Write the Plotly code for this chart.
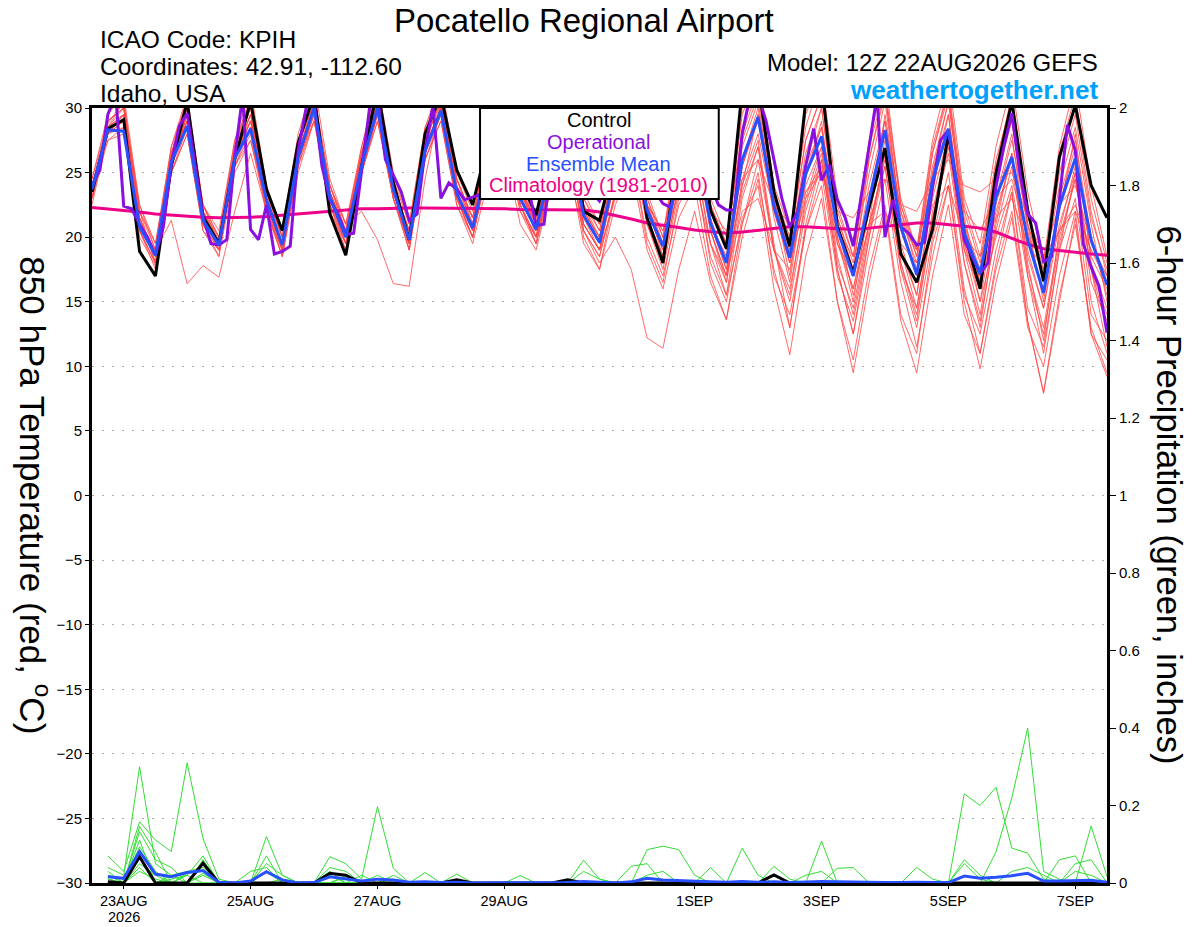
import pandas as pd
import plotly.graph_objects as go

# GEFS 12Z 22AUG2026 run, 6-hourly out to 384h; GFS operational is 3-hourly
times = pd.date_range("2026-08-22 12:00", periods=65, freq="6h")
times_op = pd.date_range("2026-08-22 12:00", periods=129, freq="3h")
precip_times = times[1:]

tick_dates = ["2026-08-23", "2026-08-25", "2026-08-27", "2026-08-29",
              "2026-09-01", "2026-09-03", "2026-09-05", "2026-09-07"]
tick_labels = ["23AUG", "25AUG", "27AUG", "29AUG", "1SEP", "3SEP", "5SEP", "7SEP"]
year_label = "2026"

# 850 hPa temperature (C)
control_temp = [23.5, 28.4, 29.1, 18.9, 17.0, 25.5, 30.5, 21.6, 19.5, 26.0, 30.5, 23.7, 20.5, 27.3, 31.0, 21.8,
                18.6, 25.5, 31.5, 24.2, 19.8, 28.0, 31.0, 25.2, 22.5, 27.5, 30.5, 24.5, 21.7, 27.0, 31.0, 22.0,
                21.3, 26.0, 30.0, 21.5, 18.0, 27.0, 31.0, 22.1, 19.1, 31.5, 32.0, 23.5, 19.3, 30.5, 32.0, 20.8,
                17.2, 22.3, 26.9, 18.7, 16.5, 20.6, 28.0, 20.3, 16.0, 24.9, 30.5, 22.1, 16.6, 26.2, 30.2, 24.0,
                21.5]
mean_temp = [23.7, 28.3, 28.2, 20.8, 18.6, 25.8, 28.6, 21.3, 19.4, 26.1, 28.4, 22.9, 19.4, 26.2, 30.0, 23.1,
             20.0, 25.5, 30.0, 23.7, 19.8, 26.7, 29.8, 23.4, 20.7, 26.0, 28.5, 23.0, 20.6, 25.5, 28.0, 21.7,
             19.6, 25.0, 28.0, 22.1, 19.3, 25.0, 27.5, 21.1, 18.0, 26.0, 29.3, 22.4, 18.4, 24.9, 27.8, 20.6,
             17.0, 22.9, 28.3, 20.8, 17.1, 24.4, 28.4, 20.3, 17.2, 23.1, 26.2, 19.8, 15.7, 22.4, 26.1, 19.8,
             16.3]
clim_temp = [22.3, 22.2, 22.1, 21.95, 21.8, 21.7, 21.6, 21.55, 21.5, 21.5, 21.55, 21.6, 21.7, 21.8, 21.95, 22.05,
             22.15, 22.2, 22.2, 22.25, 22.25, 22.25, 22.25, 22.25, 22.2, 22.2, 22.2, 22.15, 22.15, 22.15, 22.1, 22.1,
             21.95, 21.7, 21.4, 21.1, 20.95, 20.75, 20.55, 20.4, 20.3, 20.4, 20.55, 20.7, 20.8, 20.8, 20.75, 20.65,
             20.6, 20.7, 20.85, 21.0, 21.1, 21.1, 21.0, 20.85, 20.7, 20.4, 19.9, 19.45, 19.1, 18.95, 18.8, 18.7,
             18.6]
oper_temp = [24.0, 25.2, 29.5, 31.0, 22.4, 22.2, 21.0, 20.0, 18.6, 20.8, 25.7, 28.6, 29.6, 25.5, 21.6, 19.5,
             19.4, 19.8, 26.2, 31.0, 20.6, 19.8, 22.5, 18.7, 18.9, 19.3, 26.7, 30.0, 30.5, 25.5, 22.9, 21.8,
             20.2, 20.3, 25.0, 30.0, 31.0, 26.0, 24.8, 23.5, 21.3, 21.8, 26.7, 30.2, 23.0, 24.2, 23.7, 22.9,
             23.1, 23.3, 26.0, 29.0, 31.0, 29.0, 26.0, 24.0, 20.9, 21.0, 26.0, 29.0, 30.0, 26.0, 24.0, 23.5,
             22.8, 24.0, 26.0, 28.0, 27.0, 25.0, 24.0, 23.5, 22.6, 22.3, 25.0, 28.0, 29.0, 27.0, 24.0, 22.5,
             22.1, 22.1, 28.0, 31.0, 31.0, 29.0, 26.0, 23.0, 20.8, 22.0, 25.5, 28.4, 24.4, 25.6, 22.9, 21.5,
             19.3, 23.0, 27.0, 31.0, 20.0, 22.9, 20.8, 20.3, 19.4, 19.6, 23.9, 27.5, 28.3, 24.0, 19.8, 18.5,
             17.2, 18.0, 23.9, 27.0, 29.6, 25.0, 21.8, 21.1, 18.1, 18.5, 22.9, 28.7, 26.7, 19.5, 17.7, 16.2,
             12.6]

temp_members = [
    [23.0, 28.8, 30.5, 21.5, 18.0, 26.5, 30.8, 22.0, 19.8, 27.0, 31.0, 23.5, 20.0, 27.5, 31.5, 22.0,
     19.0, 26.5, 31.5, 24.5, 19.5, 28.0, 31.0, 24.0, 21.5, 27.5, 30.5, 24.5, 21.0, 27.0, 31.0, 22.5,
     20.5, 26.5, 31.0, 22.5, 18.5, 27.0, 31.5, 22.0, 19.0, 30.0, 32.0, 23.5, 19.0, 29.5, 32.5, 21.0,
     17.5, 26.0, 31.5, 20.5, 17.0, 25.0, 30.5, 21.0, 17.5, 25.5, 31.0, 22.0, 16.5, 26.5, 31.0, 23.0, 18.0],
    [24.0, 27.5, 28.0, 21.0, 19.0, 21.3, 16.4, 17.8, 16.9, 22.0, 26.5, 22.0, 19.0, 25.5, 29.0, 23.5,
     20.5, 26.0, 30.5, 24.0, 20.5, 27.0, 31.0, 24.5, 21.5, 26.0, 29.0, 23.5, 21.5, 24.0, 26.0, 21.0,
     19.0, 23.0, 27.0, 22.5, 20.5, 25.0, 28.0, 21.0, 17.5, 24.0, 29.5, 23.0, 17.0, 25.5, 30.0, 21.0,
     15.5, 21.0, 29.5, 22.0, 18.5, 25.5, 30.5, 21.5, 16.5, 24.0, 29.5, 21.0, 15.0, 23.0, 27.5, 20.0, 15.5],
    [23.5, 28.0, 29.5, 20.0, 17.8, 25.5, 29.5, 22.5, 20.0, 26.5, 29.5, 23.0, 19.0, 26.0, 29.0, 24.0,
     21.0, 22.0, 19.8, 16.4, 16.2, 24.5, 30.5, 24.5, 21.0, 27.0, 30.0, 24.0, 20.0, 26.0, 29.5, 22.5,
     19.5, 25.5, 28.0, 21.5, 18.0, 24.0, 27.0, 20.5, 16.5, 24.5, 28.0, 22.0, 18.0, 24.0, 27.0, 19.5,
     16.0, 21.0, 26.0, 19.0, 14.5, 22.0, 27.5, 19.5, 15.0, 20.0, 24.0, 17.0, 12.5, 19.5, 24.5, 17.5, 13.0],
    [23.5, 28.5, 29.0, 21.0, 18.5, 26.0, 29.0, 21.5, 19.0, 26.5, 29.0, 23.0, 19.5, 26.5, 30.5, 23.0,
     20.0, 26.0, 30.5, 24.0, 20.5, 27.0, 30.0, 23.5, 20.5, 26.5, 28.0, 22.0, 20.0, 24.0, 25.0, 20.5,
     18.0, 20.0, 17.5, 12.2, 11.4, 17.5, 22.0, 16.5, 13.6, 21.0, 26.0, 19.0, 15.5, 23.0, 27.0, 18.5,
     14.0, 20.5, 26.5, 18.0, 14.0, 21.0, 27.0, 19.0, 16.0, 22.0, 26.0, 18.5, 14.5, 21.0, 25.0, 17.5, 14.0],
    [24.0, 29.0, 30.0, 22.0, 19.5, 26.5, 29.5, 21.0, 19.5, 26.0, 28.5, 22.0, 18.5, 25.5, 30.5, 24.0,
     20.5, 25.5, 29.5, 23.0, 19.0, 26.5, 30.5, 23.0, 20.0, 25.5, 29.0, 22.5, 19.5, 24.5, 27.5, 20.0,
     17.5, 23.5, 26.5, 19.5, 16.5, 23.0, 25.5, 18.0, 15.0, 21.5, 24.0, 16.0, 10.9, 18.5, 23.0, 15.0,
     10.5, 17.5, 22.5, 14.0, 11.0, 19.5, 24.0, 15.5, 12.5, 19.0, 23.5, 14.5, 11.5, 19.0, 23.0, 14.0, 12.0],
    [22.5, 28.0, 29.0, 20.5, 18.0, 25.0, 28.0, 20.5, 19.0, 25.5, 28.0, 22.0, 19.0, 25.5, 29.5, 22.5,
     19.5, 25.0, 29.0, 23.0, 19.5, 26.0, 29.0, 22.5, 19.5, 24.5, 27.0, 21.0, 19.0, 24.0, 27.0, 20.5,
     18.5, 23.5, 26.5, 20.0, 17.0, 22.5, 25.0, 18.5, 15.5, 21.0, 25.0, 17.0, 14.0, 20.5, 24.0, 15.0,
     9.5, 16.5, 22.0, 13.5, 9.5, 17.0, 22.5, 14.0, 11.0, 17.5, 22.0, 13.5, 8.0, 15.5, 21.0, 13.0, 9.5],
    [23.5, 28.0, 28.5, 21.5, 18.5, 25.5, 28.5, 21.0, 19.5, 25.5, 27.5, 22.5, 19.5, 26.0, 29.5, 22.0,
     19.5, 25.0, 29.5, 23.5, 20.0, 26.5, 29.5, 23.0, 20.5, 25.5, 27.5, 22.5, 20.0, 24.5, 26.5, 20.5,
     18.5, 23.5, 27.0, 21.0, 17.5, 23.5, 26.0, 19.5, 15.5, 23.0, 27.0, 19.0, 15.0, 22.0, 26.0, 17.5,
     12.5, 19.0, 24.5, 16.5, 11.5, 18.5, 24.0, 15.0, 9.8, 16.5, 21.5, 13.0, 10.0, 17.0, 22.0, 12.5, 10.5],
    [24.5, 29.5, 31.0, 22.5, 19.0, 27.0, 31.0, 22.5, 20.0, 27.5, 31.5, 24.0, 20.5, 28.0, 32.0, 24.5,
     21.0, 27.0, 32.0, 25.0, 21.0, 28.5, 32.0, 25.0, 22.0, 28.0, 31.0, 25.0, 21.5, 27.5, 31.5, 23.5,
     21.0, 27.0, 31.5, 23.5, 20.0, 28.0, 32.0, 23.0, 20.0, 29.5, 32.5, 24.0, 20.5, 28.5, 32.5, 23.0,
     19.5, 27.5, 32.5, 22.5, 19.0, 27.5, 32.5, 23.0, 19.5, 27.0, 32.0, 23.5, 18.0, 27.0, 32.0, 24.0, 18.5],
    [23.0, 28.5, 29.5, 21.5, 18.5, 26.0, 29.0, 22.0, 19.5, 26.0, 29.0, 23.0, 20.0, 27.0, 30.5, 23.5,
     20.5, 26.5, 30.5, 24.0, 20.5, 27.5, 30.5, 23.5, 21.0, 26.5, 29.0, 23.5, 21.0, 26.0, 28.5, 22.0,
     20.0, 25.5, 28.5, 22.5, 20.5, 25.0, 27.0, 22.0, 20.5, 24.5, 26.0, 22.5, 21.0, 23.5, 25.0, 22.0,
     21.5, 23.5, 24.5, 22.5, 22.0, 24.5, 26.0, 24.0, 23.5, 24.5, 25.0, 21.5, 18.5, 20.5, 22.0, 19.0, 17.0],
    [24.0, 28.0, 29.0, 20.5, 18.0, 26.0, 29.5, 21.0, 19.0, 26.5, 30.0, 23.5, 19.0, 26.5, 30.0, 23.0,
     19.5, 25.5, 30.5, 24.0, 19.0, 27.0, 30.0, 23.0, 20.0, 26.0, 29.0, 23.5, 20.5, 26.0, 29.5, 21.5,
     19.0, 25.5, 29.0, 22.0, 19.0, 26.0, 29.5, 21.5, 18.0, 27.5, 31.0, 23.0, 18.5, 25.0, 28.5, 20.0,
     16.0, 22.0, 27.5, 19.5, 15.5, 23.0, 28.0, 19.0, 14.0, 21.5, 26.5, 18.0, 12.0, 20.5, 25.5, 17.5, 11.5],
    [23.5, 29.0, 30.0, 21.0, 18.5, 26.5, 30.0, 22.0, 20.0, 27.0, 30.0, 23.0, 19.5, 27.0, 31.0, 23.5,
     20.0, 26.5, 31.0, 24.5, 20.0, 28.0, 31.5, 24.0, 21.0, 27.0, 30.0, 24.0, 20.5, 26.5, 29.5, 22.0,
     20.0, 26.0, 30.0, 22.5, 19.5, 26.0, 29.0, 21.0, 18.5, 27.0, 30.5, 22.5, 19.0, 26.5, 30.0, 21.5,
     18.0, 25.0, 30.5, 21.5, 18.0, 26.5, 31.0, 22.0, 18.0, 25.5, 29.0, 21.0, 17.0, 25.0, 29.5, 21.5, 17.5],
    [23.0, 28.0, 29.0, 21.0, 18.5, 25.0, 28.5, 21.5, 19.0, 25.5, 28.5, 22.5, 19.0, 26.0, 30.0, 23.0,
     19.5, 25.5, 30.0, 23.5, 20.0, 26.5, 29.5, 23.5, 20.5, 25.5, 28.0, 22.5, 20.0, 25.0, 27.5, 21.0,
     19.0, 24.5, 27.5, 21.0, 18.0, 24.0, 26.5, 19.5, 16.5, 23.5, 27.0, 19.0, 16.0, 22.5, 26.5, 18.0,
     14.5, 21.0, 25.5, 17.5, 13.0, 20.0, 25.0, 16.0, 11.0, 18.0, 23.5, 13.5, 7.9, 15.0, 21.5, 12.5, 9.2],
    [24.0, 28.5, 30.5, 22.0, 19.0, 26.0, 30.0, 21.5, 19.5, 26.5, 29.5, 23.5, 20.0, 27.0, 31.0, 23.0,
     20.0, 26.5, 31.0, 24.0, 20.5, 27.5, 30.5, 24.0, 21.0, 27.0, 30.0, 24.0, 21.0, 26.5, 30.5, 23.0,
     20.5, 26.5, 30.5, 22.5, 19.5, 23.5, 24.5, 19.5, 17.0, 22.0, 23.0, 19.0, 17.5, 23.5, 25.5, 19.5,
     17.0, 24.0, 29.0, 21.0, 19.0, 24.5, 28.0, 22.0, 20.5, 23.0, 24.5, 20.0, 18.5, 22.5, 24.0, 19.5, 17.0],
    [23.5, 28.5, 30.0, 22.0, 18.0, 26.5, 30.5, 22.5, 19.5, 27.0, 30.5, 23.5, 20.5, 27.5, 31.0, 24.0,
     21.0, 26.5, 31.5, 24.0, 20.0, 28.0, 31.0, 24.5, 21.5, 27.5, 30.5, 24.0, 21.0, 26.5, 30.0, 22.5,
     20.0, 26.0, 30.5, 23.0, 19.5, 27.0, 31.0, 22.5, 19.5, 28.5, 32.0, 23.5, 20.0, 27.5, 31.0, 22.0,
     18.5, 26.0, 31.0, 22.5, 18.5, 26.5, 31.5, 21.0, 16.5, 24.5, 29.0, 20.5, 15.5, 22.5, 27.0, 18.5, 16.0],
    [23.0, 27.5, 28.5, 20.5, 18.0, 25.0, 28.0, 20.5, 18.5, 25.0, 27.5, 22.0, 18.5, 25.0, 29.0, 22.5,
     19.5, 25.0, 29.0, 23.0, 19.5, 26.0, 29.0, 22.5, 20.0, 25.5, 27.5, 22.0, 19.5, 24.0, 26.0, 19.5,
     17.5, 22.5, 25.5, 19.0, 16.0, 21.5, 24.0, 17.0, 13.6, 20.0, 24.5, 17.5, 13.0, 20.5, 25.0, 17.0,
     13.5, 20.0, 25.5, 17.5, 14.5, 21.5, 26.5, 18.0, 13.5, 20.5, 25.5, 17.5, 13.0, 20.0, 24.5, 16.5, 13.5],
    [24.0, 28.5, 29.5, 21.5, 18.5, 26.0, 29.5, 21.5, 19.5, 26.0, 29.0, 22.5, 19.5, 26.5, 30.0, 23.5,
     20.5, 26.0, 30.0, 23.5, 19.5, 26.5, 30.0, 23.0, 20.5, 26.5, 29.5, 23.5, 21.0, 25.5, 28.0, 21.5,
     19.5, 25.0, 28.5, 22.0, 19.0, 25.5, 28.0, 21.0, 17.5, 26.0, 30.0, 22.5, 19.5, 25.5, 28.5, 21.5,
     17.5, 23.0, 29.0, 22.0, 17.5, 25.0, 29.5, 20.5, 15.0, 22.5, 27.5, 21.0, 17.0, 24.0, 28.5, 21.0, 15.0],
    [23.0, 28.5, 29.0, 21.0, 18.5, 25.5, 29.0, 21.0, 19.0, 26.0, 28.5, 22.5, 19.0, 26.0, 29.5, 22.5,
     20.0, 25.0, 29.5, 23.0, 19.5, 26.0, 29.5, 23.0, 20.0, 25.5, 28.0, 22.5, 20.0, 25.0, 28.0, 21.0,
     19.0, 24.5, 27.5, 21.5, 18.5, 24.5, 27.5, 20.5, 17.0, 24.0, 27.5, 19.5, 13.0, 21.0, 26.0, 17.5,
     12.5, 20.0, 26.5, 18.0, 13.5, 21.5, 27.5, 18.0, 13.0, 21.0, 26.5, 17.0, 11.0, 19.0, 25.0, 15.0, 11.0],
    [24.5, 29.0, 30.0, 22.5, 19.5, 27.0, 30.5, 22.5, 20.5, 27.5, 30.5, 23.5, 20.0, 27.0, 31.0, 24.0,
     20.5, 27.0, 31.5, 24.5, 21.0, 28.5, 31.0, 24.5, 21.5, 27.5, 30.5, 24.5, 21.5, 27.0, 30.5, 23.0,
     21.0, 27.0, 30.5, 23.0, 20.0, 27.5, 31.0, 22.5, 19.5, 28.0, 31.5, 23.0, 19.5, 27.5, 31.0, 22.5,
     18.5, 27.0, 31.5, 23.0, 19.0, 27.0, 31.5, 22.5, 18.5, 26.0, 30.5, 22.0, 17.5, 26.0, 30.5, 22.0, 17.0],
    [23.5, 28.0, 29.5, 21.0, 18.5, 26.0, 29.0, 21.5, 19.5, 26.0, 29.0, 23.0, 19.5, 26.5, 30.5, 23.5,
     20.0, 26.0, 30.0, 23.5, 20.0, 27.0, 30.0, 23.5, 21.0, 26.0, 28.5, 23.0, 20.5, 25.5, 28.5, 22.0,
     20.0, 25.0, 28.5, 22.0, 19.5, 25.5, 28.5, 21.0, 18.5, 25.5, 29.0, 22.0, 18.0, 23.0, 25.0, 20.5,
     18.5, 21.0, 22.0, 19.5, 18.0, 22.5, 24.0, 20.0, 18.5, 21.5, 23.0, 19.5, 17.5, 20.5, 22.5, 19.0, 16.5],
    [23.0, 28.5, 29.5, 20.5, 17.5, 25.5, 29.5, 21.0, 18.5, 26.0, 29.5, 22.5, 18.5, 26.0, 30.0, 22.5,
     19.0, 25.5, 30.0, 23.0, 19.0, 26.5, 30.0, 23.0, 20.0, 26.0, 28.5, 22.5, 19.5, 25.0, 28.5, 21.0,
     19.0, 25.0, 28.0, 21.5, 18.5, 25.0, 28.0, 20.5, 17.0, 25.5, 29.5, 21.5, 16.5, 24.5, 29.0, 20.0,
     15.0, 22.5, 28.0, 19.0, 15.5, 23.5, 29.5, 19.5, 16.0, 23.0, 28.0, 19.0, 14.5, 22.0, 28.0, 18.0, 14.5],
]

# 6-hour precipitation (inches), valid 18Z 22AUG onward
control_precip = [0.003, 0, 0.068, 0, 0, 0, 0.051, 0, 0, 0, 0, 0, 0, 0, 0.025, 0.02,
                  0, 0, 0, 0, 0, 0, 0.008, 0, 0, 0, 0, 0, 0, 0.008, 0, 0,
                  0, 0, 0, 0, 0, 0, 0, 0, 0, 0, 0.021, 0, 0, 0, 0, 0,
                  0, 0, 0, 0, 0, 0, 0, 0, 0, 0, 0, 0, 0, 0, 0, 0]
mean_precip = [0.016, 0.012, 0.081, 0.023, 0.016, 0.027, 0.032, 0.002, 0, 0.005, 0.029, 0.008, 0, 0.001, 0.016, 0.01,
               0.005, 0.01, 0.008, 0.002, 0.003, 0.001, 0.002, 0, 0, 0.001, 0.001, 0, 0, 0.001, 0.004, 0.002,
               0, 0.003, 0.012, 0.008, 0.006, 0.005, 0.003, 0.002, 0.004, 0.002, 0.003, 0.001, 0.002, 0.004, 0.003, 0.002,
               0.001, 0.001, 0.001, 0.002, 0.001, 0.001, 0.018, 0.012, 0.015, 0.019, 0.025, 0.005, 0.005, 0.006, 0.007, 0.002]
precip_members = [
    [0.04, 0.02, 0.30, 0.05, 0.02, 0, 0, 0, 0, 0, 0, 0, 0, 0, 0, 0,
     0, 0, 0, 0, 0, 0, 0, 0, 0, 0, 0, 0, 0, 0, 0, 0,
     0, 0, 0, 0, 0, 0, 0, 0, 0, 0, 0, 0, 0, 0.108, 0, 0,
     0, 0, 0, 0, 0, 0, 0, 0, 0, 0, 0, 0, 0, 0, 0, 0],
    [0.07, 0.03, 0.158, 0.111, 0.081, 0.31, 0.115, 0.01, 0, 0, 0.12, 0.02, 0, 0, 0, 0,
     0, 0, 0, 0, 0, 0, 0, 0, 0, 0, 0, 0, 0, 0, 0.059, 0.01,
     0, 0, 0, 0, 0, 0, 0, 0, 0, 0, 0, 0, 0, 0, 0, 0,
     0, 0, 0, 0, 0, 0, 0, 0, 0, 0, 0, 0, 0, 0, 0, 0],
    [0.02, 0, 0.146, 0.08, 0, 0.02, 0.07, 0, 0, 0, 0, 0, 0, 0, 0.068, 0.05,
     0.01, 0.197, 0.038, 0, 0, 0, 0, 0, 0, 0, 0, 0, 0, 0, 0, 0,
     0, 0, 0.086, 0.095, 0.086, 0.02, 0, 0, 0, 0, 0, 0, 0, 0, 0, 0,
     0, 0, 0, 0, 0, 0, 0, 0, 0, 0, 0, 0, 0, 0, 0, 0],
    [0.01, 0, 0.133, 0.06, 0.04, 0, 0.05, 0, 0, 0, 0.07, 0, 0, 0, 0, 0,
     0.02, 0, 0, 0, 0, 0, 0, 0, 0, 0, 0, 0, 0, 0, 0, 0,
     0, 0, 0, 0, 0, 0, 0, 0, 0, 0, 0, 0, 0, 0, 0, 0,
     0, 0, 0, 0, 0, 0, 0.23, 0.20, 0.247, 0.09, 0.077, 0.01, 0, 0, 0, 0],
    [0, 0, 0.111, 0, 0.02, 0.03, 0.04, 0, 0, 0, 0, 0, 0, 0, 0.04, 0.03,
     0, 0, 0, 0, 0.027, 0, 0, 0, 0, 0, 0, 0, 0, 0, 0, 0,
     0, 0, 0, 0, 0, 0, 0, 0, 0, 0, 0, 0, 0, 0, 0, 0,
     0, 0, 0, 0, 0, 0, 0, 0, 0.08, 0.22, 0.40, 0.03, 0.01, 0, 0, 0],
    [0.03, 0, 0.094, 0.03, 0, 0.025, 0.03, 0, 0, 0, 0.05, 0.02, 0, 0, 0, 0,
     0, 0, 0.02, 0, 0, 0, 0, 0, 0, 0, 0, 0, 0, 0, 0, 0,
     0, 0, 0, 0, 0, 0, 0, 0, 0.09, 0.02, 0, 0, 0, 0, 0, 0,
     0, 0, 0, 0, 0, 0, 0, 0, 0, 0, 0, 0, 0, 0, 0.147, 0.017],
    [0.02, 0.01, 0.07, 0, 0, 0, 0.06, 0, 0, 0.03, 0.04, 0, 0, 0, 0.03, 0,
     0, 0, 0, 0, 0, 0, 0.023, 0, 0, 0, 0, 0, 0, 0, 0, 0,
     0, 0.043, 0.05, 0, 0, 0, 0.04, 0, 0, 0, 0, 0, 0, 0, 0, 0,
     0, 0, 0, 0, 0, 0, 0.06, 0.02, 0, 0, 0, 0, 0, 0.05, 0.06, 0],
    [0, 0, 0.05, 0.02, 0, 0, 0.02, 0, 0, 0, 0.03, 0, 0, 0, 0, 0.02,
     0, 0.02, 0, 0, 0, 0, 0, 0, 0, 0, 0.019, 0, 0, 0, 0, 0,
     0, 0, 0, 0, 0, 0, 0, 0, 0, 0, 0.043, 0.01, 0, 0, 0.038, 0.04,
     0, 0, 0, 0, 0, 0, 0, 0, 0, 0, 0, 0, 0.06, 0.07, 0, 0],
    [0.01, 0, 0.04, 0, 0.01, 0.02, 0, 0, 0, 0, 0, 0.01, 0, 0, 0.02, 0,
     0, 0, 0.01, 0, 0, 0, 0, 0, 0, 0, 0, 0, 0, 0, 0, 0,
     0, 0, 0.02, 0.03, 0, 0, 0, 0, 0, 0, 0, 0, 0.02, 0.03, 0, 0,
     0, 0, 0, 0, 0, 0, 0, 0, 0, 0.03, 0.04, 0.02, 0, 0, 0, 0],
    [0, 0, 0.03, 0.01, 0, 0, 0.025, 0, 0, 0, 0, 0, 0, 0, 0, 0.015,
     0, 0, 0, 0, 0, 0, 0, 0, 0, 0, 0, 0, 0, 0, 0.03, 0.01,
     0, 0, 0, 0, 0, 0, 0, 0, 0, 0, 0, 0, 0, 0, 0, 0,
     0, 0, 0, 0.04, 0.01, 0, 0.05, 0.01, 0, 0, 0, 0, 0, 0.03, 0.02, 0],
]

RED = "rgba(255,70,70,0.8)"
GREEN = "#33dd33"
PURPLE = "#8a10e0"
BLUE = "#2850ff"
MAGENTA = "#ee0088"
FONT = "Liberation Sans"

fig = go.Figure()

for m in temp_members:
    fig.add_trace(go.Scatter(x=times, y=m, mode="lines",
                             line=dict(color=RED, width=1), hoverinfo="skip"))
for m in precip_members:
    fig.add_trace(go.Scatter(x=precip_times, y=m, yaxis="y2", mode="lines",
                             line=dict(color=GREEN, width=1), hoverinfo="skip"))

fig.add_trace(go.Scatter(x=times, y=clim_temp, mode="lines", line=dict(color=MAGENTA, width=3)))
fig.add_trace(go.Scatter(x=times, y=control_temp, mode="lines", line=dict(color="black", width=3)))
fig.add_trace(go.Scatter(x=times_op, y=oper_temp, mode="lines", line=dict(color=PURPLE, width=3)))
fig.add_trace(go.Scatter(x=times, y=mean_temp, mode="lines", line=dict(color=BLUE, width=3)))
fig.add_trace(go.Scatter(x=precip_times, y=control_precip, yaxis="y2", mode="lines",
                         line=dict(color="black", width=3)))
fig.add_trace(go.Scatter(x=precip_times, y=mean_precip, yaxis="y2", mode="lines",
                         line=dict(color=BLUE, width=3)))

# legend box drawn by hand (text only, no line samples)
fig.add_shape(type="rect", xref="paper", yref="paper", x0=0.3823, x1=0.6175, y0=0.8826, y1=1.0,
              fillcolor="white", line=dict(color="black", width=2), layer="above")
legend_items = [("Control", "black"), ("Operational", PURPLE),
                ("Ensemble Mean", BLUE), ("Climatology (1981-2010)", MAGENTA)]
legend_y = [0.9845, 0.9565, 0.9277, 0.9006]
for (txt, col), ly in zip(legend_items, legend_y):
    fig.add_annotation(x=0.4995, y=ly, xref="paper", yref="paper", text=txt, showarrow=False,
                       font=dict(size=20, color=col, family=FONT), xanchor="center", yanchor="middle")

# year under the first date tick
fig.add_annotation(x=tick_dates[0], y=-0.0435, xref="x", yref="paper", text=year_label,
                   showarrow=False, font=dict(size=14.5, family=FONT), xanchor="center", yanchor="middle")

# header texts
fig.add_annotation(x=0.4847, y=1.1135, xref="paper", yref="paper", text="Pocatello Regional Airport",
                   showarrow=False, font=dict(size=33, family=FONT), xanchor="center", yanchor="middle")
for txt, py in [("ICAO Code: KPIH", 1.088), ("Coordinates: 42.91, -112.60", 1.054), ("Idaho, USA", 1.019)]:
    fig.add_annotation(x=0.006, y=py, xref="paper", yref="paper", text=txt, showarrow=False,
                       font=dict(size=24.5, family=FONT), xanchor="left", yanchor="middle")
fig.add_annotation(x=0.993, y=1.059, xref="paper", yref="paper", text="Model: 12Z 22AUG2026 GEFS",
                   showarrow=False, font=dict(size=24, family=FONT), xanchor="right", yanchor="middle")
fig.add_annotation(x=0.993, y=1.023, xref="paper", yref="paper", text="<b>weathertogether.net</b>",
                   showarrow=False, font=dict(size=26, color="#00a0ff", family=FONT),
                   xanchor="right", yanchor="middle")

# axis titles, both rotated clockwise
fig.add_annotation(x=-0.056, y=0.5, xref="paper", yref="paper", textangle=90,
                   text="850 hPa Temperature (red, <sup>o</sup>C)", showarrow=False,
                   font=dict(size=35, family=FONT), xanchor="center", yanchor="middle")
fig.add_annotation(x=1.062, y=0.5, xref="paper", yref="paper", textangle=90,
                   text="6-hour Precipitation (green, inches)", showarrow=False,
                   font=dict(size=34.5, family=FONT), xanchor="center", yanchor="middle")

fig.update_layout(
    width=1200, height=927,
    margin=dict(l=92, r=93, t=108, b=44, autoexpand=False),
    plot_bgcolor="white", paper_bgcolor="white",
    showlegend=False,
    font=dict(family=FONT, color="black"),
    xaxis=dict(type="date", range=[times[0], times[-1]], automargin=False,
               tickvals=tick_dates, ticktext=tick_labels,
               showgrid=False, zeroline=False,
               ticks="outside", ticklen=3, tickcolor="black",
               showline=True, linecolor="black", linewidth=3, mirror=True,
               tickfont=dict(size=14.5)),
    yaxis=dict(range=[-30, 30], dtick=5, showgrid=True, gridcolor="#aaaaaa", automargin=False,
               griddash="2px,8px", gridwidth=1.2, zeroline=False,
               showline=True, linecolor="black", linewidth=3,
               ticks="outside", ticklen=4, tickcolor="black",
               tickfont=dict(size=15)),
    yaxis2=dict(range=[0, 2], dtick=0.2, overlaying="y", side="right", automargin=False,
                showgrid=False, zeroline=False,
                showline=True, linecolor="black", linewidth=3,
                ticks="outside", ticklen=6, tickcolor="black",
                tickfont=dict(size=15)),
)

# drop the browser's default body margin so the 1200x927 figure fills the window exactly
fig.write_html("out.html", config={"displayModeBar": False},
               post_script="document.body.style.margin = '0';")
